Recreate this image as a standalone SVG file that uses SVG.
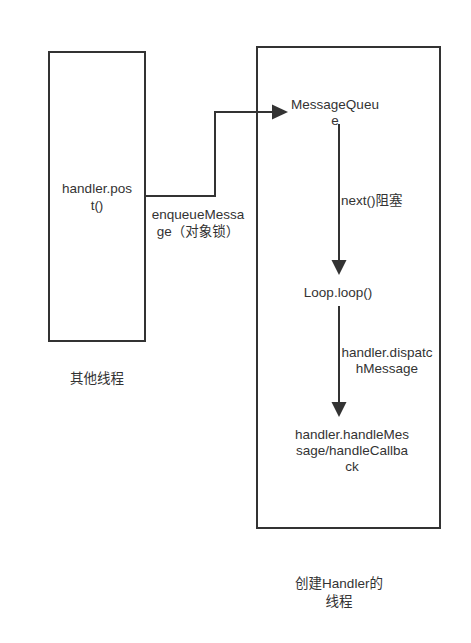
<svg xmlns="http://www.w3.org/2000/svg" width="471" height="643" viewBox="0 0 471 643">
<defs>
<style>
text{font-family:"Liberation Sans","Noto Sans CJK SC",sans-serif;font-size:13.5px;fill:#333;text-anchor:middle;dominant-baseline:central}
.box{fill:#fff;stroke:#333;stroke-width:2}
.line{fill:none;stroke:#333;stroke-width:2}
</style>
</defs>
<rect width="471" height="643" fill="#fff"/>
<g id="other-thread">
<rect class="box" x="49" y="52" width="96" height="289"/>
<text x="97" y="188">handler.pos</text>
<text x="97" y="205">t()</text>
</g>
<g id="handler-thread">
<rect class="box" x="257" y="47" width="183" height="481"/>
</g>
<g id="connectors">
<path d="M145,196 H215 V112 H272" class="line"/>
<path d="M272,104.5 L288,112 L272,119.5 z" fill="#333"/>
<path d="M339,124 V260" class="line"/>
<path d="M331.5,260 L339,275 L346.5,260 z" fill="#333"/>
<path d="M339,306 V402" class="line"/>
<path d="M331.5,402 L339,417 L346.5,402 z" fill="#333"/>
<text x="198" y="214">enqueueMessa</text>
<text x="198" y="231">ge（对象锁）</text>
<text x="341" y="200" style="text-anchor:start">next()阻塞</text>
<text x="387" y="352">handler.dispatc</text>
<text x="387" y="368">hMessage</text>
</g>
<g id="message-queue">
<text x="335" y="104">MessageQueu</text>
<text x="335" y="120">e</text>
</g>
<g id="loop">
<text x="338" y="292">Loop.loop()</text>
</g>
<g id="handle-message">
<text x="352" y="434">handler.handleMes</text>
<text x="352" y="450">sage/handleCallba</text>
<text x="352" y="466">ck</text>
</g>
<g id="label-other">
<text x="97" y="378">其他线程</text>
</g>
<g id="label-handler">
<text x="339" y="583">创建Handler的</text>
<text x="339" y="601">线程</text>
</g>
</svg>
